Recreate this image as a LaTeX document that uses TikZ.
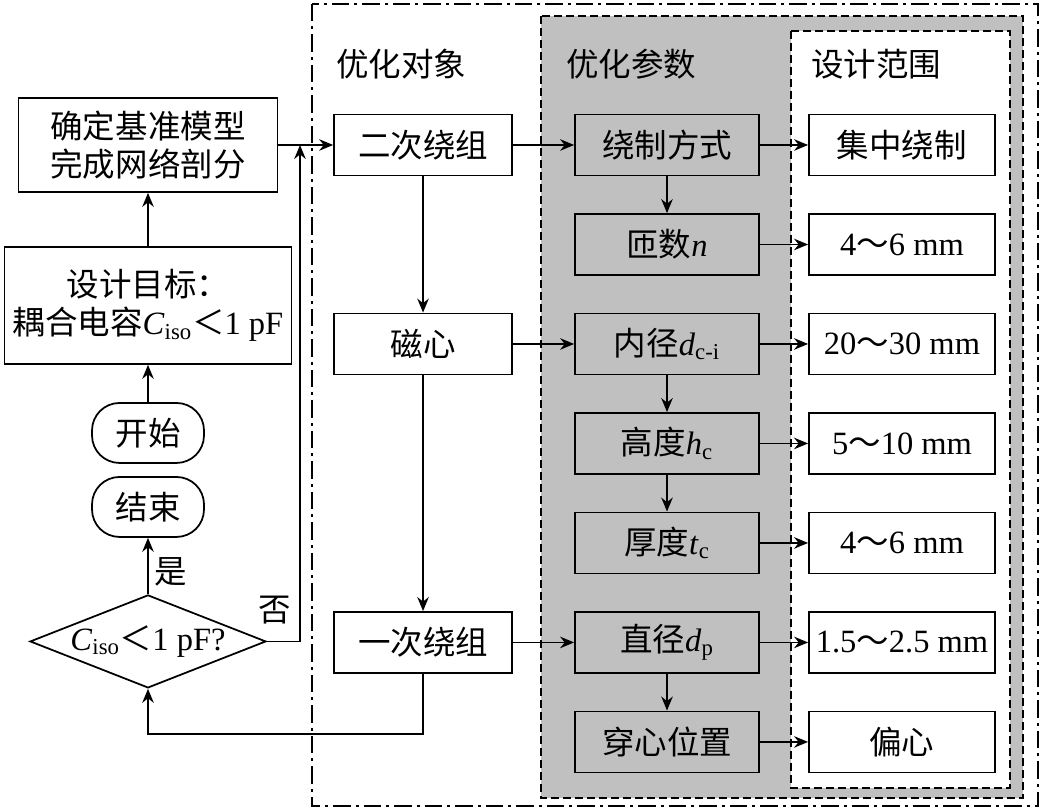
\documentclass[tikz,border=0pt]{standalone}
\usepackage{fontspec}
\setmainfont{Liberation Serif}
\newfontfamily\cjk{Noto Sans CJK SC}
\newcommand{\tnr}[1]{{\rmfamily #1}}
\usepackage{xcolor}
\usepackage{tikz}
\usetikzlibrary{shapes.geometric, arrows.meta, positioning}

\definecolor{paramgray}{RGB}{192,192,192}

\begin{document}
\begin{tikzpicture}[
    x=0.02cm, y=-0.02cm,
    node distance=0.735cm,
    every node/.style={font=\cjk\fontsize{18.5}{22}\selectfont},
    objbox/.style={rectangle, draw, minimum width=3.56cm, minimum height=1.22cm, align=center, line width=1pt},
    parbox/.style={rectangle, draw, fill=paramgray, minimum width=3.68cm, minimum height=1.22cm, align=center, line width=1pt},
    rngbox/.style={rectangle, draw, fill=white, minimum width=3.72cm, minimum height=1.22cm, align=center, line width=1pt},
    flowbox/.style={rectangle, draw, align=center, line width=1pt},
    terminal/.style={rectangle, draw, rounded corners=0.55cm, minimum width=2.24cm, minimum height=1.2cm, line width=1pt},
    decision/.style={diamond, draw, aspect=2.54, inner xsep=-0.3cm, inner ysep=0pt, minimum width=4.72cm, minimum height=1.86cm, line width=1pt},
    arrow/.style={-{Stealth[length=2.8mm, width=2.3mm]}, line width=1pt}
]
\useasboundingbox (0,0) rectangle (1043,810);

% frames of the three columns
\draw[line width=0.8pt, dash pattern=on 3.5mm off 1mm on 0.6mm off 1mm] (312,4) rectangle (1038,806);
\draw[line width=0.8pt, dash pattern=on 1.6mm off 0.8mm, fill=paramgray] (541,16) rectangle (1023,798);
\draw[line width=0.8pt, dash pattern=on 1.6mm off 0.8mm, fill=white] (791,31) rectangle (1010,788);

\node[anchor=west] (objhead) at (330,64) {优化对象};
\node[anchor=west] (parhead) at (560,64) {优化参数};
\node[anchor=west] (rnghead) at (805,64) {设计范围};

% optimization parameters
\node[parbox] (p1) at (667,145) {绕制方式};
\node[parbox, below=of p1] (p2) {匝数\tnr{\textit{n}}};
\node[parbox, below=of p2] (p3) {内径\tnr{\textit{d}\textsubscript{c-i}}};
\node[parbox, below=of p3] (p4) {高度\tnr{\textit{h}\textsubscript{c}}};
\node[parbox, below=of p4] (p5) {厚度\tnr{\textit{t}\textsubscript{c}}};
\node[parbox, below=of p5] (p6) {直径\tnr{\textit{d}\textsubscript{p}}};
\node[parbox, below=of p6] (p7) {穿心位置};

% design ranges
\node[rngbox, right=0.965cm of p1] (r1) {集中绕制};
\node[rngbox, right=0.965cm of p2] (r2) {\tnr{4}～\tnr{6 mm}};
\node[rngbox, right=0.965cm of p3] (r3) {\tnr{20}～\tnr{30 mm}};
\node[rngbox, right=0.965cm of p4] (r4) {\tnr{5}～\tnr{10 mm}};
\node[rngbox, right=0.965cm of p5] (r5) {\tnr{4}～\tnr{6 mm}};
\node[rngbox, right=0.965cm of p6] (r6) {\tnr{1.5}～\tnr{2.5 mm}};
\node[rngbox, right=0.965cm of p7] (r7) {偏心};

% optimization objects
\node[objbox, left=1.225cm of p1] (sec) {二次绕组};
\node[objbox, left=1.225cm of p3] (core) {磁心};
\node[objbox, left=1.225cm of p6] (pri) {一次绕组};

% flow on the left
\node[flowbox, minimum width=5.18cm, minimum height=1.88cm] (model) at (148,145) {确定基准模型\\完成网络剖分};
\node[flowbox, minimum width=5.74cm, minimum height=2.34cm, below=1.065cm of model] (goal) {设计目标：\\耦合电容\tnr{\textit{C}\textsubscript{iso}}＜\tnr{1 pF}};
\node[terminal, below=0.745cm of goal] (start) {开始};
\node[terminal, below=0.245cm of start] (stop) {结束};
\node[decision, below=1.125cm of stop] (check) {\tnr{\textit{C}\textsubscript{iso}}＜\tnr{1 pF?}};
\coordinate (join) at (300,145);

\draw[arrow] (start) -- (goal);
\draw[arrow] (goal) -- (model);
\draw[arrow] (check) -- node[right, pos=0.4] {是} (stop);
\draw[arrow] (check.east) -| node[above=6pt, pos=0.12] {否} (join);
\draw[arrow] (model) -- (sec);
\draw[arrow] (pri.south) -- ++(0,60) -| (check.south);

\draw[arrow] (sec) -- (core);
\draw[arrow] (core) -- (pri);
\draw[arrow] (sec) -- (p1);
\draw[arrow] (core) -- (p3);
\draw[arrow] (pri) -- (p6);

\draw[arrow] (p1) -- (p2);
\draw[arrow] (p3) -- (p4);
\draw[arrow] (p4) -- (p5);
\draw[arrow] (p6) -- (p7);

\draw[arrow] (p1) -- (r1);
\draw[arrow] (p2) -- (r2);
\draw[arrow] (p3) -- (r3);
\draw[arrow] (p4) -- (r4);
\draw[arrow] (p5) -- (r5);
\draw[arrow] (p6) -- (r6);
\draw[arrow] (p7) -- (r7);

\end{tikzpicture}
\end{document}
